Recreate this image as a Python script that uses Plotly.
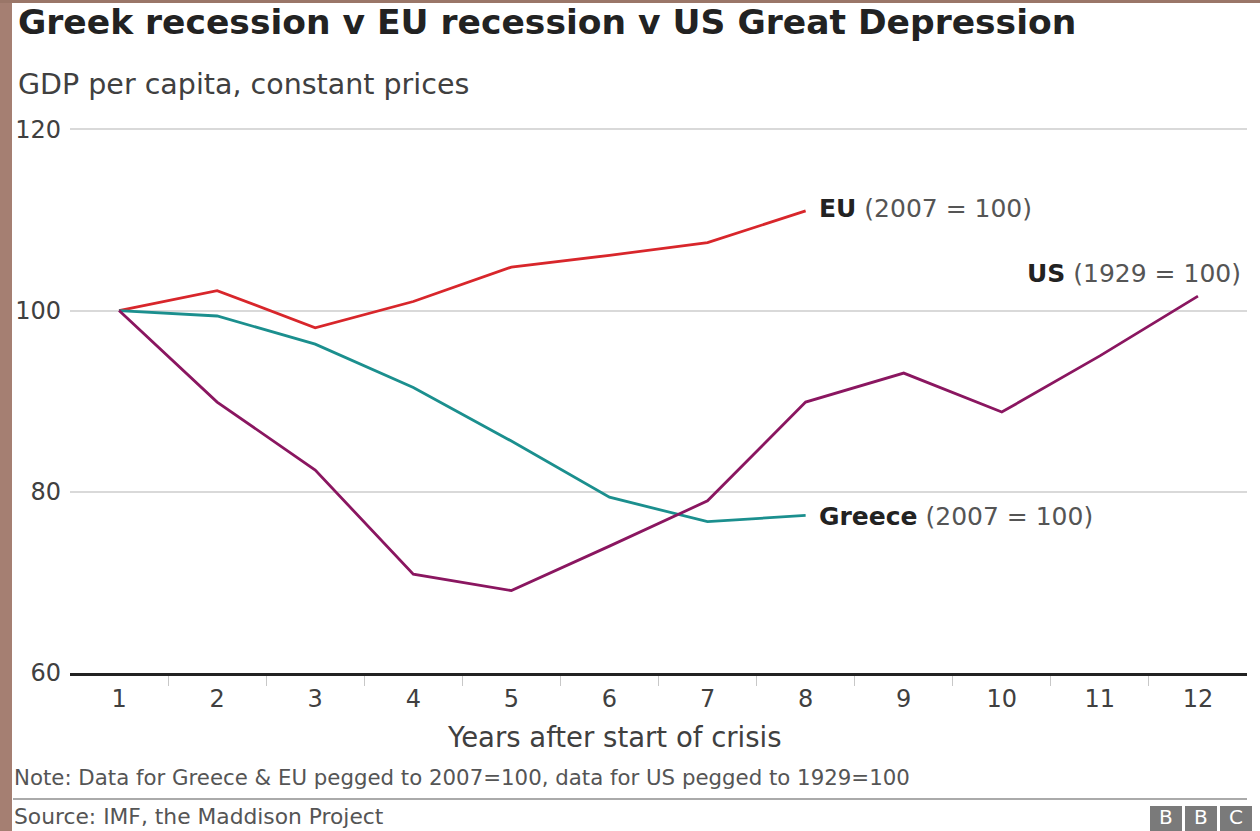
import plotly.graph_objects as go

years = list(range(1, 13))
eu_years = list(range(1, 9))
eu_values = [100, 102.2, 98.1, 101.0, 104.8, 106.1, 107.5, 111.0]
greece_years = list(range(1, 9))
greece_values = [100, 99.4, 96.3, 91.5, 85.6, 79.4, 76.7, 77.4]
us_years = list(range(1, 13))
us_values = [100, 89.9, 82.4, 70.9, 69.1, 74.0, 79.0, 89.9, 93.1, 88.8, 95.0, 101.6]
y_ticks = [60, 80, 100, 120]

W, H = 1260, 831
L, R, T, B = 70, 13, 128, 158
PW, PH = W - L - R, H - T - B

def px(x):
    return (x - L) / PW

def py(y):
    return (H - B - y) / PH

FONT = "DejaVu Sans, Verdana, sans-serif"

fig = go.Figure()
fig.add_trace(go.Scatter(x=eu_years, y=eu_values, mode="lines",
                         line=dict(color="#d8262b", width=2.8), name="EU"))
fig.add_trace(go.Scatter(x=greece_years, y=greece_values, mode="lines",
                         line=dict(color="#1b8f8e", width=2.8), name="Greece"))
fig.add_trace(go.Scatter(x=us_years, y=us_values, mode="lines",
                         line=dict(color="#8a1660", width=2.8), name="US"))

shapes = [
    # brown page border
    dict(type="rect", xref="paper", yref="paper", x0=px(0), x1=px(12), y0=py(H), y1=py(0),
         fillcolor="#a57f72", line=dict(width=0), layer="below"),
    dict(type="rect", xref="paper", yref="paper", x0=px(0), x1=px(W), y0=py(3), y1=py(0),
         fillcolor="#9a7668", line=dict(width=0), layer="below"),
    # footer separator line
    dict(type="line", xref="paper", yref="paper", x0=px(13), x1=px(1247), y0=py(799), y1=py(799),
         line=dict(color="#aaaaaa", width=2)),
]
annotations = [
    dict(text="<b>Greek recession v EU recession v US Great Depression</b>", x=px(16), y=py(22),
         xanchor="left", yanchor="middle", font=dict(size=34.5, color="#222222", family=FONT)),
    dict(text="GDP per capita, constant prices", x=px(16), y=py(84),
         xanchor="left", yanchor="middle", font=dict(size=28.5, color="#404040", family=FONT)),
    dict(text="Years after start of crisis", x=px(614), y=py(737),
         xanchor="center", yanchor="middle", font=dict(size=27.5, color="#404040", family=FONT)),
    dict(text="Note: Data for Greece & EU pegged to 2007=100, data for US pegged to 1929=100",
         x=px(12), y=py(777), xanchor="left", yanchor="middle",
         font=dict(size=21.3, color="#555555", family=FONT)),
    dict(text="Source: IMF, the Maddison Project", x=px(12), y=py(816),
         xanchor="left", yanchor="middle", font=dict(size=21.8, color="#555555", family=FONT)),
    dict(text="<b>EU</b> <span style='color:#555555'>(2007 = 100)</span>", x=px(817), y=py(208),
         xanchor="left", yanchor="middle", font=dict(size=25, color="#222222", family=FONT)),
    dict(text="<b>US</b> <span style='color:#555555'>(1929 = 100)</span>", x=px(1243), y=py(273),
         xanchor="right", yanchor="middle", font=dict(size=25, color="#222222", family=FONT)),
    dict(text="<b>Greece</b> <span style='color:#555555'>(2007 = 100)</span>", x=px(817), y=py(516),
         xanchor="left", yanchor="middle", font=dict(size=25, color="#222222", family=FONT)),
]
# BBC logo
for i, letter in enumerate(["B", "B", "C"]):
    x0 = 1150 + i * 35
    shapes.append(dict(type="rect", xref="paper", yref="paper", x0=px(x0), x1=px(x0 + 32),
                       y0=py(831), y1=py(806), fillcolor="#7a7a7a", line=dict(width=0)))
    annotations.append(dict(text=letter, x=px(x0 + 16), y=py(817), xanchor="center", yanchor="middle",
                            font=dict(size=20, color="white", family=FONT)))
for a in annotations:
    a.update(xref="paper", yref="paper", showarrow=False)

fig.update_layout(
    width=W, height=H,
    margin=dict(l=L, r=R, t=T, b=B),
    paper_bgcolor="white", plot_bgcolor="rgba(0,0,0,0)",
    showlegend=False,
    shapes=shapes, annotations=annotations,
    xaxis=dict(range=[0.5, 12.5], tickvals=years, ticktext=[str(y) for y in years],
               showgrid=False, zeroline=False, showline=True, linecolor="#222222", linewidth=3,
               ticks="outside", ticklen=2, tickcolor="rgba(0,0,0,0)",
               tickfont=dict(size=24, color="#404040", family=FONT),
               minor=dict(tickvals=[y + 0.5 for y in years[:-1]], ticks="outside", ticklen=10,
                          tickcolor="#c8c8c8", tickwidth=1, showgrid=False)),
    yaxis=dict(range=[60, 120.15], tickvals=y_ticks, showgrid=True, gridcolor="#d9d9d9", gridwidth=1.5,
               zeroline=False, ticks="", ticklabelstandoff=8,
               tickfont=dict(size=24, color="#404040", family=FONT)),
)

fig.write_html("out.html", config={"displayModeBar": False},
               post_script="document.body.style.margin='0';")
